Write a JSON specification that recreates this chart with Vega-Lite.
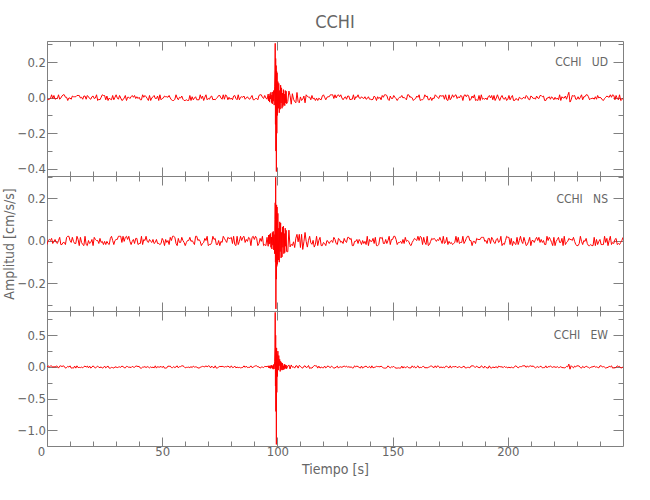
{
  "$schema": "https://vega.github.io/schema/vega-lite/v6.json",
  "padding": {"left": 2, "top": 14, "right": 5, "bottom": 5},
  "title": {"text": "CCHI", "font": "Liberation Sans Narrow, DejaVu Sans Condensed, sans-serif", "fontSize": 18, "fontWeight": "normal", "color": "#666666", "anchor": "middle", "frame": "group", "offset": 6},
  "datasets": {
    "w": [
{"t":0,"u":-0.005,"n":-0.017,"e":-0.002},{"t":0.5,"u":-0.012,"n":0.002,"e":0.018},{"t":1,"u":-0.009,"n":0.007,"e":0.002},{"t":1.5,"u":-0.005,"n":0.002,"e":0.014},{"t":2,"u":0.016,"n":0.012,"e":0.018},
{"t":2.5,"u":-0.005,"n":-0.012,"e":-0.006},{"t":3,"u":0.012,"n":-0.002,"e":0.006},{"t":3.5,"u":-0.009,"n":0.007,"e":-0.002},{"t":4,"u":-0.005,"n":-0.007,"e":0.014},{"t":4.5,"u":-0.005,"n":-0.012,"e":0.010},
{"t":5,"u":0.016,"n":0.002,"e":-0.018},{"t":5.5,"u":-0.009,"n":0.017,"e":0.014},{"t":6,"u":-0.002,"n":-0.017,"e":0.018},{"t":6.5,"u":0.009,"n":-0.017,"e":0.006},{"t":7,"u":0.016,"n":-0.007,"e":0.018},
{"t":7.5,"u":0.016,"n":-0.007,"e":0.010},{"t":8,"u":0.002,"n":-0.017,"e":-0.018},{"t":8.5,"u":0.002,"n":0.017,"e":-0.010},{"t":9,"u":-0.016,"n":0.022,"e":0.010},{"t":9.5,"u":-0.002,"n":0.022,"e":-0.002},
{"t":10,"u":-0.002,"n":0.002,"e":0.018},{"t":10.5,"u":-0.009,"n":-0.007,"e":-0.018},{"t":11,"u":0.009,"n":0.017,"e":-0.014},{"t":11.5,"u":0.005,"n":-0.002,"e":-0.018},{"t":12,"u":0.005,"n":-0.012,"e":0.014},
{"t":12.5,"u":0.005,"n":-0.012,"e":-0.018},{"t":13,"u":0.012,"n":0.022,"e":0.018},{"t":13.5,"u":0.012,"n":0.007,"e":-0.010},{"t":14,"u":0.012,"n":-0.022,"e":-0.006},{"t":14.5,"u":-0.002,"n":0.017,"e":-0.010},
{"t":15,"u":0.002,"n":-0.007,"e":-0.002},{"t":15.5,"u":-0.009,"n":-0.017,"e":-0.014},{"t":16,"u":0.009,"n":-0.022,"e":0.006},{"t":16.5,"u":0.009,"n":0.022,"e":0.014},{"t":17,"u":-0.009,"n":-0.017,"e":-0.002},
{"t":17.5,"u":0.012,"n":-0.022,"e":0.014},{"t":18,"u":0.005,"n":0.002,"e":-0.014},{"t":18.5,"u":-0.005,"n":-0.012,"e":0.014},{"t":19,"u":-0.009,"n":-0.007,"e":-0.018},{"t":19.5,"u":0.005,"n":0.007,"e":-0.002},
{"t":20,"u":0.009,"n":-0.022,"e":0.018},{"t":20.5,"u":-0.005,"n":0.017,"e":-0.002},{"t":21,"u":-0.002,"n":0.007,"e":-0.018},{"t":21.5,"u":0.016,"n":0.002,"e":0.002},{"t":22,"u":-0.016,"n":0.002,"e":0.014},
{"t":22.5,"u":-0.009,"n":-0.012,"e":-0.006},{"t":23,"u":-0.012,"n":0.012,"e":-0.010},{"t":23.5,"u":0.002,"n":-0.007,"e":0.002},{"t":24,"u":0.016,"n":-0.002,"e":-0.018},{"t":24.5,"u":0.012,"n":-0.017,"e":-0.010},
{"t":25,"u":0.012,"n":-0.002,"e":0.014},{"t":25.5,"u":-0.012,"n":-0.017,"e":-0.014},{"t":26,"u":0.009,"n":-0.002,"e":0.002},{"t":26.5,"u":-0.016,"n":-0.012,"e":0.014},{"t":27,"u":-0.002,"n":-0.017,"e":-0.018},
{"t":27.5,"u":-0.009,"n":0.012,"e":-0.018},{"t":28,"u":-0.012,"n":0.022,"e":-0.006},{"t":28.5,"u":0.012,"n":0.002,"e":-0.010},{"t":29,"u":-0.012,"n":-0.017,"e":-0.018},{"t":29.5,"u":0.002,"n":0.002,"e":0.002},
{"t":30,"u":0.016,"n":0.007,"e":-0.002},{"t":30.5,"u":-0.002,"n":0.007,"e":-0.010},{"t":31,"u":-0.009,"n":0.022,"e":-0.002},{"t":31.5,"u":0.012,"n":0.022,"e":0.002},{"t":32,"u":-0.002,"n":0.022,"e":-0.006},
{"t":32.5,"u":-0.016,"n":-0.007,"e":0.014},{"t":33,"u":-0.012,"n":0.022,"e":0.006},{"t":33.5,"u":-0.002,"n":-0.002,"e":-0.010},{"t":34,"u":0.012,"n":0.017,"e":-0.014},{"t":34.5,"u":-0.016,"n":0.022,"e":0.010},
{"t":35,"u":0.002,"n":0.007,"e":0.006},{"t":35.5,"u":0.002,"n":0.022,"e":-0.006},{"t":36,"u":-0.005,"n":-0.002,"e":-0.002},{"t":36.5,"u":0.005,"n":-0.017,"e":-0.010},{"t":37,"u":0.012,"n":-0.002,"e":0.010},
{"t":37.5,"u":0.002,"n":0.007,"e":-0.002},{"t":38,"u":0.012,"n":-0.012,"e":-0.006},{"t":38.5,"u":-0.005,"n":0.012,"e":0.014},{"t":39,"u":0.005,"n":0.012,"e":0.014},{"t":39.5,"u":-0.005,"n":-0.017,"e":0.006},
{"t":40,"u":0.002,"n":-0.012,"e":0.010},{"t":40.5,"u":-0.012,"n":-0.012,"e":-0.018},{"t":41,"u":-0.012,"n":0.022,"e":-0.018},{"t":41.5,"u":0.016,"n":-0.017,"e":-0.002},{"t":42,"u":0.002,"n":0.007,"e":-0.002},
{"t":42.5,"u":0.012,"n":0.002,"e":0.006},{"t":43,"u":0.005,"n":0.022,"e":-0.010},{"t":43.5,"u":-0.005,"n":-0.002,"e":0.006},{"t":44,"u":-0.016,"n":-0.007,"e":-0.002},{"t":44.5,"u":0.012,"n":0.007,"e":-0.014},
{"t":45,"u":-0.016,"n":-0.002,"e":0.002},{"t":45.5,"u":-0.002,"n":-0.007,"e":-0.010},{"t":46,"u":0.005,"n":0.007,"e":-0.002},{"t":46.5,"u":0.012,"n":-0.012,"e":-0.014},{"t":47,"u":-0.005,"n":-0.007,"e":0.018},
{"t":47.5,"u":-0.005,"n":0.007,"e":-0.018},{"t":48,"u":0.009,"n":-0.012,"e":0.006},{"t":48.5,"u":-0.016,"n":-0.012,"e":-0.002},{"t":49,"u":0.016,"n":-0.017,"e":-0.002},{"t":49.5,"u":-0.012,"n":-0.012,"e":0.010},
{"t":50,"u":-0.005,"n":0.012,"e":-0.010},{"t":50.5,"u":-0.002,"n":0.002,"e":0.014},{"t":51,"u":0.009,"n":-0.022,"e":-0.018},{"t":51.5,"u":0.005,"n":0.007,"e":-0.018},{"t":52,"u":0.005,"n":-0.007,"e":-0.014},
{"t":52.5,"u":0.002,"n":0.002,"e":0.014},{"t":53,"u":0.012,"n":-0.017,"e":0.010},{"t":53.5,"u":-0.002,"n":0.017,"e":0.014},{"t":54,"u":-0.012,"n":0.002,"e":-0.010},{"t":54.5,"u":-0.016,"n":0.022,"e":-0.010},
{"t":55,"u":-0.016,"n":0.022,"e":0.006},{"t":55.5,"u":-0.009,"n":0.017,"e":-0.010},{"t":56,"u":0.016,"n":-0.012,"e":0.002},{"t":56.5,"u":-0.002,"n":-0.022,"e":0.018},{"t":57,"u":-0.012,"n":0.012,"e":-0.014},
{"t":57.5,"u":0.002,"n":-0.007,"e":0.006},{"t":58,"u":-0.002,"n":-0.007,"e":0.006},{"t":58.5,"u":0.009,"n":0.017,"e":0.018},{"t":59,"u":-0.009,"n":0.002,"e":0.018},{"t":59.5,"u":-0.016,"n":-0.007,"e":0.006},
{"t":60,"u":-0.016,"n":-0.022,"e":-0.014},{"t":60.5,"u":-0.012,"n":-0.007,"e":-0.006},{"t":61,"u":-0.016,"n":0.002,"e":-0.006},{"t":61.5,"u":-0.016,"n":0.002,"e":-0.002},{"t":62,"u":0.012,"n":0.017,"e":-0.010},
{"t":62.5,"u":-0.016,"n":-0.002,"e":0.006},{"t":63,"u":0.005,"n":0.002,"e":-0.010},{"t":63.5,"u":-0.012,"n":-0.007,"e":0.014},{"t":64,"u":-0.002,"n":-0.017,"e":-0.002},{"t":64.5,"u":0.005,"n":0.022,"e":0.002},
{"t":65,"u":-0.012,"n":0.022,"e":-0.002},{"t":65.5,"u":-0.012,"n":0.002,"e":-0.014},{"t":66,"u":-0.012,"n":0.007,"e":-0.018},{"t":66.5,"u":0.016,"n":-0.002,"e":-0.006},{"t":67,"u":-0.005,"n":-0.022,"e":0.002},
{"t":67.5,"u":0.009,"n":-0.012,"e":0.010},{"t":68,"u":-0.016,"n":-0.007,"e":0.006},{"t":68.5,"u":0.002,"n":0.012,"e":0.002},{"t":69,"u":0.016,"n":0.002,"e":0.018},{"t":69.5,"u":-0.012,"n":0.022,"e":0.002},
{"t":70,"u":-0.005,"n":-0.022,"e":0.018},{"t":70.5,"u":-0.009,"n":-0.017,"e":0.014},{"t":71,"u":0.005,"n":-0.017,"e":-0.014},{"t":71.5,"u":0.009,"n":-0.007,"e":0.014},{"t":72,"u":-0.012,"n":0.022,"e":-0.006},
{"t":72.5,"u":-0.009,"n":0.007,"e":-0.014},{"t":73,"u":-0.012,"n":0.012,"e":0.018},{"t":73.5,"u":-0.005,"n":-0.017,"e":-0.018},{"t":74,"u":0.002,"n":-0.017,"e":-0.014},{"t":74.5,"u":0.012,"n":0.002,"e":-0.002},
{"t":75,"u":0.012,"n":-0.022,"e":0.010},{"t":75.5,"u":-0.002,"n":-0.002,"e":0.006},{"t":76,"u":-0.009,"n":-0.007,"e":0.010},{"t":76.5,"u":0.016,"n":0.022,"e":0.006},{"t":77,"u":-0.009,"n":0.012,"e":-0.002},
{"t":77.5,"u":0.016,"n":0.002,"e":0.006},{"t":78,"u":0.009,"n":-0.007,"e":0.002},{"t":78.5,"u":-0.012,"n":0.017,"e":0.014},{"t":79,"u":0.002,"n":0.012,"e":0.002},{"t":79.5,"u":-0.009,"n":0.012,"e":-0.010},
{"t":80,"u":-0.002,"n":0.017,"e":0.018},{"t":80.5,"u":-0.012,"n":-0.012,"e":-0.010},{"t":81,"u":0.009,"n":0.022,"e":-0.006},{"t":81.5,"u":0.012,"n":-0.017,"e":0.014},{"t":82,"u":-0.005,"n":-0.022,"e":-0.014},
{"t":82.5,"u":-0.012,"n":0.022,"e":-0.002},{"t":83,"u":0.016,"n":-0.017,"e":-0.010},{"t":83.5,"u":-0.012,"n":-0.002,"e":-0.006},{"t":84,"u":0.002,"n":0.022,"e":-0.014},{"t":84.5,"u":0.005,"n":0.002,"e":-0.010},
{"t":85,"u":0.002,"n":0.017,"e":-0.006},{"t":85.5,"u":0.009,"n":0.022,"e":0.018},{"t":86,"u":-0.009,"n":-0.007,"e":-0.006},{"t":86.5,"u":-0.002,"n":0.007,"e":0.014},{"t":87,"u":0.005,"n":-0.002,"e":-0.010},
{"t":87.5,"u":-0.005,"n":0.017,"e":-0.006},{"t":88,"u":-0.009,"n":0.012,"e":-0.006},{"t":88.5,"u":0.002,"n":-0.022,"e":0.018},{"t":89,"u":0.012,"n":0.017,"e":-0.010},{"t":89.5,"u":-0.012,"n":0.022,"e":-0.002},
{"t":90,"u":-0.012,"n":0.007,"e":0.010},{"t":90.5,"u":-0.005,"n":0.022,"e":0.018},{"t":91,"u":-0.005,"n":0.012,"e":0.018},{"t":91.5,"u":-0.012,"n":-0.022,"e":0.002},{"t":92,"u":0.012,"n":-0.012,"e":0.002},
{"t":92.5,"u":0.016,"n":0.012,"e":-0.018},{"t":93,"u":0.016,"n":-0.002,"e":-0.002},{"t":93.5,"u":0.002,"n":0.022,"e":-0.002},{"t":94,"u":-0.005,"n":-0.022,"e":-0.010},{"t":94.5,"u":0.012,"n":-0.017,"e":0.010},
{"t":95,"u":-0.002,"n":-0.022,"e":0.006},{"t":95.5,"u":-0.009,"n":0.017,"e":0.006},
{"t":96,"u":0.020,"n":-0.025,"e":0.015},{"t":96.2,"u":-0.018,"n":0.028,"e":-0.012},{"t":96.4,"u":0.010,"n":-0.015,"e":0.020},{"t":96.6,"u":-0.025,"n":0.030,"e":-0.018},{"t":96.8,"u":0.022,"n":-0.012,"e":0.008},
{"t":97,"u":-0.008,"n":0.035,"e":-0.022},{"t":97.2,"u":0.030,"n":-0.030,"e":0.025},{"t":97.4,"u":-0.028,"n":0.018,"e":-0.010},{"t":97.6,"u":0.015,"n":-0.038,"e":0.030},{"t":97.8,"u":-0.035,"n":0.040,"e":-0.025},
{"t":98,"u":0.032,"n":-0.020,"e":0.015},{"t":98.2,"u":-0.020,"n":0.045,"e":-0.035},{"t":98.4,"u":0.040,"n":-0.042,"e":0.040},{"t":98.6,"u":-0.042,"n":0.030,"e":-0.030},{"t":98.8,"u":0.060,"n":-0.060,"e":0.080},
{"t":98.95,"u":0.150,"n":0.100,"e":0.300},{"t":99.05,"u":0.305,"n":0.180,"e":0.860},{"t":99.15,"u":-0.150,"n":-0.100,"e":-0.300},{"t":99.25,"u":0.220,"n":0.300,"e":0.500},{"t":99.35,"u":-0.300,"n":-0.320,"e":-0.700},
{"t":99.45,"u":0.180,"n":0.150,"e":0.300},{"t":99.55,"u":-0.415,"n":-0.180,"e":-1.220},{"t":99.65,"u":0.150,"n":0.170,"e":0.300},{"t":99.75,"u":-0.200,"n":-0.120,"e":-0.400},{"t":99.85,"u":0.140,"n":0.160,"e":0.200},
{"t":100,"u":-0.100,"n":-0.110,"e":-0.150},{"t":100.2,"u":0.090,"n":0.130,"e":0.250},{"t":100.4,"u":-0.060,"n":-0.090,"e":-0.050},{"t":100.6,"u":0.080,"n":0.060,"e":0.180},{"t":100.8,"u":-0.085,"n":-0.100,"e":0.020},
{"t":101,"u":0.040,"n":0.090,"e":0.120},{"t":101.2,"u":-0.065,"n":-0.050,"e":-0.070},{"t":101.4,"u":0.070,"n":0.085,"e":0.090},{"t":101.6,"u":-0.030,"n":-0.080,"e":-0.040},{"t":101.8,"u":0.055,"n":0.040,"e":0.070},
{"t":102,"u":-0.060,"n":-0.075,"e":-0.050},{"t":102.2,"u":0.025,"n":0.065,"e":0.060},{"t":102.4,"u":-0.050,"n":-0.030,"e":-0.045},{"t":102.6,"u":0.045,"n":0.070,"e":0.020},{"t":102.8,"u":-0.040,"n":-0.060,"e":-0.040},
{"t":103,"u":0.020,"n":0.035,"e":0.045},{"t":103.2,"u":-0.045,"n":-0.055,"e":-0.030},{"t":103.4,"u":0.040,"n":0.060,"e":0.035},{"t":103.6,"u":-0.030,"n":-0.025,"e":-0.020},{"t":103.8,"u":0.036,"n":0.050,"e":0.030},
{"t":104,"u":-0.034,"n":-0.050,"e":-0.028},
{"t":104.5,"u":-0.021,"n":-0.051,"e":0.014},{"t":105,"u":0.037,"n":0.051,"e":0.032},{"t":105.5,"u":0.012,"n":-0.028,"e":-0.032},{"t":106,"u":-0.037,"n":-0.016,"e":0.032},
{"t":106.5,"u":0.022,"n":-0.022,"e":-0.004},{"t":107,"u":-0.009,"n":-0.004,"e":0.004},{"t":107.5,"u":-0.022,"n":-0.031,"e":-0.018},{"t":108,"u":-0.029,"n":0.013,"e":0.018},{"t":108.5,"u":0.029,"n":0.031,"e":0.018},
{"t":109,"u":-0.022,"n":-0.004,"e":-0.018},{"t":109.5,"u":-0.029,"n":0.031,"e":0.025},{"t":110,"u":0.004,"n":-0.031,"e":0.011},{"t":110.5,"u":-0.016,"n":0.031,"e":-0.011},{"t":111,"u":-0.009,"n":-0.040,"e":-0.018},
{"t":111.5,"u":0.009,"n":-0.004,"e":0.011},{"t":112,"u":-0.029,"n":0.040,"e":0.018},{"t":112.5,"u":0.016,"n":-0.003,"e":-0.008},{"t":113,"u":0.007,"n":-0.029,"e":-0.003},{"t":113.5,"u":0.003,"n":0.003,"e":0.023},
{"t":114,"u":0.003,"n":0.022,"e":-0.023},{"t":114.5,"u":-0.012,"n":-0.009,"e":-0.013},{"t":115,"u":0.012,"n":-0.016,"e":-0.018},{"t":115.5,"u":-0.007,"n":0.003,"e":0.003},{"t":116,"u":-0.003,"n":-0.029,"e":0.023},
{"t":116.5,"u":-0.016,"n":-0.016,"e":0.018},{"t":117,"u":-0.003,"n":0.022,"e":0.018},{"t":117.5,"u":-0.016,"n":-0.022,"e":-0.018},{"t":118,"u":-0.003,"n":0.003,"e":0.013},
{"t":118.5,"u":-0.009,"n":0.017,"e":-0.018},{"t":119,"u":-0.012,"n":-0.022,"e":-0.002},{"t":119.5,"u":0.009,"n":-0.022,"e":-0.010},{"t":120,"u":0.016,"n":-0.007,"e":-0.014},{"t":120.5,"u":0.002,"n":-0.012,"e":0.014},
{"t":121,"u":-0.012,"n":-0.022,"e":-0.014},{"t":121.5,"u":0.002,"n":0.002,"e":0.002},{"t":122,"u":0.005,"n":-0.002,"e":0.018},{"t":122.5,"u":0.005,"n":-0.012,"e":-0.002},{"t":123,"u":0.016,"n":-0.002,"e":-0.010},
{"t":123.5,"u":0.016,"n":0.002,"e":0.014},{"t":124,"u":0.016,"n":-0.007,"e":-0.002},{"t":124.5,"u":-0.005,"n":0.017,"e":-0.018},{"t":125,"u":0.016,"n":0.007,"e":-0.014},{"t":125.5,"u":-0.002,"n":-0.012,"e":-0.002},
{"t":126,"u":0.012,"n":-0.017,"e":0.014},{"t":126.5,"u":0.016,"n":0.012,"e":-0.018},{"t":127,"u":0.005,"n":0.007,"e":0.002},{"t":127.5,"u":0.016,"n":-0.007,"e":0.002},{"t":128,"u":-0.002,"n":-0.002,"e":-0.006},
{"t":128.5,"u":-0.012,"n":-0.012,"e":0.006},{"t":129,"u":-0.002,"n":0.012,"e":0.014},{"t":129.5,"u":0.005,"n":-0.002,"e":0.002},{"t":130,"u":-0.009,"n":-0.007,"e":0.014},{"t":130.5,"u":0.009,"n":0.017,"e":-0.006},
{"t":131,"u":0.009,"n":0.017,"e":0.006},{"t":131.5,"u":-0.012,"n":0.007,"e":-0.006},{"t":132,"u":-0.009,"n":0.012,"e":0.002},{"t":132.5,"u":-0.009,"n":-0.022,"e":-0.014},{"t":133,"u":0.016,"n":-0.022,"e":-0.014},
{"t":133.5,"u":-0.012,"n":-0.002,"e":0.018},{"t":134,"u":0.005,"n":-0.002,"e":0.002},{"t":134.5,"u":0.002,"n":0.007,"e":0.014},{"t":135,"u":0.016,"n":-0.012,"e":0.006},{"t":135.5,"u":-0.002,"n":0.007,"e":-0.006},
{"t":136,"u":-0.005,"n":-0.002,"e":-0.018},{"t":136.5,"u":0.005,"n":-0.017,"e":0.014},{"t":137,"u":-0.002,"n":0.002,"e":-0.018},{"t":137.5,"u":-0.005,"n":-0.012,"e":-0.002},{"t":138,"u":0.005,"n":-0.002,"e":0.006},
{"t":138.5,"u":-0.009,"n":-0.017,"e":0.014},{"t":139,"u":-0.005,"n":0.022,"e":-0.006},{"t":139.5,"u":0.005,"n":-0.022,"e":-0.006},{"t":140,"u":-0.009,"n":0.007,"e":0.010},{"t":140.5,"u":-0.009,"n":-0.002,"e":-0.018},
{"t":141,"u":-0.012,"n":-0.002,"e":0.018},{"t":141.5,"u":-0.009,"n":0.012,"e":-0.014},{"t":142,"u":0.009,"n":-0.012,"e":-0.006},{"t":142.5,"u":0.002,"n":0.017,"e":-0.002},{"t":143,"u":-0.016,"n":-0.022,"e":0.010},
{"t":143.5,"u":0.005,"n":-0.022,"e":0.006},{"t":144,"u":-0.005,"n":-0.017,"e":0.006},{"t":144.5,"u":0.002,"n":0.017,"e":0.002},{"t":145,"u":-0.012,"n":0.012,"e":0.014},{"t":145.5,"u":0.012,"n":0.017,"e":-0.002},
{"t":146,"u":0.002,"n":-0.012,"e":-0.014},{"t":146.5,"u":0.016,"n":-0.012,"e":-0.018},{"t":147,"u":0.016,"n":0.007,"e":-0.018},{"t":147.5,"u":0.012,"n":-0.012,"e":-0.010},{"t":148,"u":-0.009,"n":0.002,"e":0.018},
{"t":148.5,"u":-0.016,"n":0.022,"e":-0.002},{"t":149,"u":0.009,"n":-0.017,"e":-0.014},{"t":149.5,"u":-0.005,"n":0.007,"e":0.002},{"t":150,"u":-0.005,"n":0.007,"e":-0.002},{"t":150.5,"u":0.012,"n":0.022,"e":0.010},
{"t":151,"u":0.002,"n":0.022,"e":-0.010},{"t":151.5,"u":-0.005,"n":0.007,"e":-0.018},{"t":152,"u":-0.016,"n":-0.017,"e":-0.018},{"t":152.5,"u":-0.005,"n":-0.007,"e":-0.014},{"t":153,"u":0.002,"n":-0.007,"e":-0.018},
{"t":153.5,"u":0.002,"n":-0.002,"e":-0.018},{"t":154,"u":0.012,"n":-0.012,"e":0.014},{"t":154.5,"u":-0.002,"n":0.007,"e":-0.018},{"t":155,"u":0.002,"n":-0.012,"e":0.006},{"t":155.5,"u":-0.005,"n":0.017,"e":-0.014},
{"t":156,"u":-0.012,"n":-0.002,"e":-0.002},{"t":156.5,"u":0.016,"n":0.002,"e":0.006},{"t":157,"u":0.016,"n":-0.002,"e":-0.014},{"t":157.5,"u":0.002,"n":-0.017,"e":-0.014},{"t":158,"u":0.005,"n":-0.022,"e":-0.014},
{"t":158.5,"u":-0.002,"n":-0.007,"e":0.018},{"t":159,"u":-0.016,"n":0.002,"e":-0.006},{"t":159.5,"u":-0.009,"n":0.012,"e":0.010},{"t":160,"u":-0.005,"n":0.007,"e":-0.018},{"t":160.5,"u":0.009,"n":0.002,"e":0.002},
{"t":161,"u":0.002,"n":0.022,"e":0.018},{"t":161.5,"u":0.016,"n":0.002,"e":-0.014},{"t":162,"u":-0.016,"n":0.022,"e":-0.006},{"t":162.5,"u":-0.012,"n":0.017,"e":-0.010},{"t":163,"u":-0.012,"n":-0.017,"e":0.006},
{"t":163.5,"u":-0.005,"n":0.017,"e":0.010},{"t":164,"u":0.016,"n":-0.007,"e":-0.014},{"t":164.5,"u":0.005,"n":-0.017,"e":-0.010},{"t":165,"u":0.009,"n":0.022,"e":-0.014},{"t":165.5,"u":-0.012,"n":-0.022,"e":-0.006},
{"t":166,"u":-0.012,"n":-0.017,"e":0.002},{"t":166.5,"u":0.002,"n":-0.002,"e":0.014},{"t":167,"u":-0.016,"n":0.012,"e":0.014},{"t":167.5,"u":-0.002,"n":0.007,"e":-0.002},{"t":168,"u":-0.005,"n":0.012,"e":-0.010},
{"t":168.5,"u":0.016,"n":0.007,"e":0.018},{"t":169,"u":0.009,"n":-0.002,"e":-0.010},{"t":169.5,"u":0.002,"n":0.007,"e":0.018},{"t":170,"u":-0.005,"n":0.002,"e":0.010},{"t":170.5,"u":0.012,"n":0.017,"e":-0.014},
{"t":171,"u":0.009,"n":0.002,"e":0.002},{"t":171.5,"u":0.009,"n":-0.012,"e":-0.010},{"t":172,"u":0.012,"n":0.022,"e":-0.002},{"t":172.5,"u":-0.009,"n":-0.012,"e":-0.014},{"t":173,"u":0.016,"n":-0.007,"e":0.010},
{"t":173.5,"u":-0.012,"n":0.017,"e":0.014},{"t":174,"u":-0.016,"n":-0.017,"e":-0.006},{"t":174.5,"u":0.016,"n":-0.002,"e":-0.014},{"t":175,"u":-0.012,"n":-0.012,"e":0.018},
{"t":175.5,"u":-0.002,"n":-0.007,"e":-0.014},{"t":176,"u":0.016,"n":-0.017,"e":0.002},{"t":176.5,"u":0.002,"n":-0.012,"e":0.006},{"t":177,"u":0.012,"n":-0.007,"e":0.002},{"t":177.5,"u":0.016,"n":0.022,"e":0.010},
{"t":178,"u":-0.005,"n":-0.007,"e":-0.010},{"t":178.5,"u":0.005,"n":0.017,"e":-0.002},{"t":179,"u":-0.002,"n":-0.012,"e":0.006},{"t":179.5,"u":0.012,"n":-0.007,"e":-0.006},{"t":180,"u":0.009,"n":-0.007,"e":-0.010},
{"t":180.5,"u":-0.016,"n":0.022,"e":0.002},{"t":181,"u":0.012,"n":-0.012,"e":0.014},{"t":181.5,"u":0.016,"n":-0.002,"e":-0.014},{"t":182,"u":0.005,"n":0.012,"e":-0.014},{"t":182.5,"u":0.016,"n":0.022,"e":-0.006},
{"t":183,"u":0.009,"n":0.022,"e":-0.006},{"t":183.5,"u":-0.016,"n":0.002,"e":-0.014},{"t":184,"u":-0.009,"n":0.002,"e":0.014},{"t":184.5,"u":0.009,"n":-0.022,"e":0.018},{"t":185,"u":-0.002,"n":-0.002,"e":0.018},
{"t":185.5,"u":0.016,"n":-0.002,"e":0.002},{"t":186,"u":-0.016,"n":-0.012,"e":-0.006},{"t":186.5,"u":-0.012,"n":0.012,"e":0.014},{"t":187,"u":-0.016,"n":0.007,"e":-0.002},{"t":187.5,"u":0.012,"n":0.007,"e":-0.010},
{"t":188,"u":-0.016,"n":0.007,"e":-0.010},{"t":188.5,"u":0.016,"n":0.017,"e":0.018},{"t":189,"u":-0.009,"n":0.017,"e":0.006},{"t":189.5,"u":-0.005,"n":0.017,"e":-0.018},{"t":190,"u":-0.009,"n":-0.002,"e":0.014},
{"t":190.5,"u":-0.002,"n":0.002,"e":-0.006},{"t":191,"u":-0.012,"n":-0.012,"e":-0.014},{"t":191.5,"u":0.005,"n":0.012,"e":-0.018},{"t":192,"u":0.012,"n":0.012,"e":0.018},{"t":192.5,"u":-0.002,"n":-0.012,"e":-0.014},
{"t":193,"u":0.012,"n":0.017,"e":-0.018},{"t":193.5,"u":-0.012,"n":0.007,"e":0.002},{"t":194,"u":0.012,"n":-0.007,"e":-0.010},{"t":194.5,"u":-0.016,"n":-0.012,"e":-0.006},{"t":195,"u":-0.002,"n":0.007,"e":0.006},
{"t":195.5,"u":0.016,"n":0.012,"e":-0.018},{"t":196,"u":-0.002,"n":-0.007,"e":0.014},{"t":196.5,"u":-0.016,"n":-0.002,"e":0.006},{"t":197,"u":0.002,"n":0.022,"e":0.002},{"t":197.5,"u":0.012,"n":-0.022,"e":0.002},
{"t":198,"u":-0.005,"n":-0.012,"e":-0.010},{"t":198.5,"u":-0.009,"n":-0.017,"e":0.010},{"t":199,"u":0.002,"n":0.002,"e":-0.006},{"t":199.5,"u":-0.016,"n":0.022,"e":-0.002},{"t":200,"u":-0.009,"n":0.017,"e":-0.014},
{"t":200.5,"u":0.012,"n":0.017,"e":-0.002},{"t":201,"u":-0.012,"n":-0.017,"e":-0.014},{"t":201.5,"u":0.002,"n":0.012,"e":-0.002},{"t":202,"u":0.012,"n":-0.022,"e":-0.010},{"t":202.5,"u":-0.016,"n":-0.002,"e":-0.014},
{"t":203,"u":-0.016,"n":-0.012,"e":0.010},{"t":203.5,"u":-0.005,"n":-0.017,"e":0.018},{"t":204,"u":-0.009,"n":0.017,"e":0.002},{"t":204.5,"u":-0.016,"n":-0.017,"e":-0.014},{"t":205,"u":0.002,"n":0.002,"e":0.002},
{"t":205.5,"u":-0.002,"n":0.022,"e":0.006},{"t":206,"u":-0.009,"n":-0.002,"e":0.006},{"t":206.5,"u":-0.002,"n":-0.012,"e":0.018},{"t":207,"u":0.002,"n":0.017,"e":0.018},{"t":207.5,"u":-0.005,"n":-0.002,"e":0.018},
{"t":208,"u":0.012,"n":-0.022,"e":-0.006},{"t":208.5,"u":0.005,"n":-0.017,"e":0.018},{"t":209,"u":-0.009,"n":-0.002,"e":-0.002},{"t":209.5,"u":-0.012,"n":0.017,"e":0.014},{"t":210,"u":0.009,"n":-0.022,"e":0.018},
{"t":210.5,"u":0.005,"n":0.002,"e":0.006},{"t":211,"u":-0.005,"n":0.002,"e":0.018},{"t":211.5,"u":-0.002,"n":-0.007,"e":-0.002},{"t":212,"u":-0.009,"n":0.007,"e":-0.014},{"t":212.5,"u":0.009,"n":0.017,"e":-0.002},
{"t":213,"u":-0.002,"n":0.002,"e":0.006},{"t":213.5,"u":-0.005,"n":0.017,"e":-0.010},{"t":214,"u":0.012,"n":-0.007,"e":0.010},{"t":214.5,"u":0.012,"n":0.007,"e":0.010},{"t":215,"u":0.005,"n":-0.007,"e":-0.014},
{"t":215.5,"u":0.009,"n":0.002,"e":-0.010},{"t":216,"u":-0.016,"n":-0.017,"e":-0.010},{"t":216.5,"u":-0.016,"n":-0.017,"e":0.018},{"t":217,"u":-0.002,"n":0.022,"e":-0.014},{"t":217.5,"u":-0.002,"n":0.002,"e":0.006},
{"t":218,"u":0.005,"n":0.017,"e":0.002},{"t":218.5,"u":-0.009,"n":0.007,"e":0.018},{"t":219,"u":0.005,"n":-0.007,"e":-0.002},{"t":219.5,"u":-0.002,"n":-0.022,"e":-0.006},{"t":220,"u":-0.012,"n":0.017,"e":0.006},
{"t":220.5,"u":0.002,"n":-0.022,"e":-0.002},{"t":221,"u":-0.009,"n":-0.002,"e":-0.006},{"t":221.5,"u":-0.002,"n":0.007,"e":0.006},{"t":222,"u":-0.012,"n":0.017,"e":-0.010},{"t":222.5,"u":0.016,"n":-0.007,"e":-0.006},
{"t":223,"u":-0.016,"n":-0.007,"e":0.006},{"t":223.5,"u":0.005,"n":0.012,"e":-0.010},{"t":224,"u":-0.002,"n":-0.022,"e":-0.010},{"t":224.5,"u":-0.002,"n":0.022,"e":-0.014},{"t":225,"u":0.009,"n":-0.017,"e":-0.010},
{"t":225.5,"u":-0.009,"n":-0.007,"e":0.010},{"t":226,"u":0.012,"n":-0.002,"e":0.002},{"t":226.5,"u":0.030,"n":0.012,"e":0.045},{"t":227,"u":-0.025,"n":0.007,"e":-0.035},{"t":227.5,"u":-0.012,"n":0.007,"e":0.020},
{"t":228,"u":0.012,"n":0.002,"e":0.002},{"t":228.5,"u":0.009,"n":0.017,"e":-0.014},{"t":229,"u":0.012,"n":-0.002,"e":0.014},{"t":229.5,"u":-0.009,"n":-0.017,"e":0.002},{"t":230,"u":-0.009,"n":-0.022,"e":0.018},
{"t":230.5,"u":0.005,"n":-0.022,"e":0.018},{"t":231,"u":-0.009,"n":-0.012,"e":0.014},{"t":231.5,"u":0.002,"n":0.022,"e":-0.010},{"t":232,"u":0.016,"n":-0.002,"e":-0.018},{"t":232.5,"u":-0.012,"n":-0.017,"e":0.010},
{"t":233,"u":0.005,"n":0.002,"e":-0.006},{"t":233.5,"u":0.005,"n":-0.002,"e":-0.006},{"t":234,"u":0.016,"n":0.012,"e":0.014},{"t":234.5,"u":0.016,"n":-0.012,"e":0.002},{"t":235,"u":0.005,"n":-0.022,"e":-0.006},
{"t":235.5,"u":-0.012,"n":-0.022,"e":-0.018},{"t":236,"u":-0.005,"n":-0.017,"e":-0.006},{"t":236.5,"u":-0.005,"n":-0.022,"e":0.002},{"t":237,"u":-0.002,"n":-0.022,"e":0.002},{"t":237.5,"u":-0.009,"n":0.017,"e":0.014},
{"t":238,"u":0.005,"n":-0.022,"e":-0.002},{"t":238.5,"u":-0.009,"n":0.007,"e":0.002},{"t":239,"u":0.012,"n":-0.017,"e":-0.006},{"t":239.5,"u":-0.002,"n":-0.002,"e":-0.014},{"t":240,"u":0.002,"n":0.007,"e":0.018},
{"t":240.5,"u":-0.002,"n":-0.017,"e":0.018},{"t":241,"u":-0.012,"n":-0.017,"e":0.002},{"t":241.5,"u":-0.016,"n":-0.017,"e":0.006},{"t":242,"u":-0.005,"n":0.022,"e":-0.002},{"t":242.5,"u":0.002,"n":-0.007,"e":-0.018},
{"t":243,"u":0.009,"n":0.012,"e":-0.010},{"t":243.5,"u":0.005,"n":-0.022,"e":-0.006},{"t":244,"u":0.002,"n":0.002,"e":0.010},{"t":244.5,"u":0.016,"n":0.022,"e":0.002},{"t":245,"u":0.002,"n":-0.017,"e":0.018},
{"t":245.5,"u":0.016,"n":-0.007,"e":-0.018},{"t":246,"u":0.012,"n":-0.012,"e":-0.014},{"t":246.5,"u":-0.012,"n":0.007,"e":-0.014},{"t":247,"u":0.012,"n":0.012,"e":-0.006},{"t":247.5,"u":-0.005,"n":-0.017,"e":0.018},
{"t":248,"u":-0.012,"n":-0.012,"e":0.006},{"t":248.5,"u":0.016,"n":-0.017,"e":0.010},{"t":249,"u":-0.016,"n":-0.007,"e":-0.014},{"t":249.5,"u":-0.012,"n":0.002,"e":-0.014},{"t":250,"u":-0.002,"n":0.017,"e":0.002}
    ],
    "lab": [
      {"c":"UD","t":243.5,"y":0.2,"txt":"CCHI\u00a0\u00a0\u00a0UD"},
      {"c":"NS","t":243.5,"y":0.2,"txt":"CCHI\u00a0\u00a0\u00a0NS"},
      {"c":"EW","t":243.5,"y":0.5,"txt":"CCHI\u00a0\u00a0\u00a0EW"}
    ]
  },
  "vconcat": [
    {
      "width": 576, "height": 135,
      "data": {"name": "w"},
      "layer": [
        {"mark": {"type": "line", "color": "#ff0000", "strokeWidth": 1, "clip": true},
         "encoding": {
           "x": {"field": "t", "type": "quantitative", "scale": {"domain": [0, 250], "nice": false, "zero": false},
                 "axis": {"orient": "bottom", "values": [0,10,20,30,40,50,60,70,80,90,100,110,120,130,140,150,160,170,180,190,200,210,220,230,240], "tickSize": {"condition": {"test": "datum.value % 50 === 0", "value": -9}, "value": -5}, "labels": false, "title": null}},
           "y": {"field": "u", "type": "quantitative", "scale": {"domain": [-0.44, 0.318], "nice": false, "zero": false},
                 "axis": {"orient": "left", "values": [-0.4,-0.3,-0.2,-0.1,0,0.1,0.2,0.3], "format": ".1f", "tickSize": {"condition": {"test": "round(datum.value*10) % 2 === 0", "value": -10}, "value": -5}, "labelExpr": "round(datum.value*10) % 2 === 0 ? datum.label : ''", "labelPadding": 11.5, "labelOverlap": false, "title": null}}
         }},
        {"data": {"name": "lab"}, "transform": [{"filter": "datum.c === 'UD'"}],
         "mark": {"type": "text", "align": "right", "baseline": "middle", "font": "Liberation Sans Narrow, DejaVu Sans Condensed, sans-serif", "fontSize": 12, "color": "#666666"},
         "encoding": {
           "x": {"field": "t", "type": "quantitative", "scale": {"domain": [0, 250], "nice": false, "zero": false}, "axis": null},
           "y": {"field": "y", "type": "quantitative", "scale": {"domain": [-0.44, 0.318], "nice": false, "zero": false}, "axis": null},
           "text": {"field": "txt"}
         }},
        {"data": {"name": "lab"}, "transform": [{"filter": "datum.c === 'UD'"}],
         "mark": {"type": "point", "opacity": 0},
         "encoding": {
           "x": {"field": "t", "type": "quantitative", "scale": {"domain": [0, 250], "nice": false, "zero": false},
                 "axis": {"orient": "top", "values": [0,10,20,30,40,50,60,70,80,90,100,110,120,130,140,150,160,170,180,190,200,210,220,230,240], "tickSize": {"condition": {"test": "datum.value % 50 === 0", "value": -9}, "value": -5}, "labels": false, "title": null}},
           "y": {"field": "y", "type": "quantitative", "scale": {"domain": [-0.44, 0.318], "nice": false, "zero": false},
                 "axis": {"orient": "right", "values": [-0.4,-0.3,-0.2,-0.1,0,0.1,0.2,0.3], "tickSize": {"condition": {"test": "round(datum.value*10) % 2 === 0", "value": -10}, "value": -5}, "labels": false, "title": null}}
         }}
      ],
      "resolve": {"axis": {"x": "independent", "y": "independent"}}
    },
    {
      "width": 576, "height": 135,
      "data": {"name": "w"},
      "layer": [
        {"mark": {"type": "line", "color": "#ff0000", "strokeWidth": 1, "clip": true},
         "encoding": {
           "x": {"field": "t", "type": "quantitative", "scale": {"domain": [0, 250], "nice": false, "zero": false},
                 "axis": {"orient": "bottom", "values": [0,10,20,30,40,50,60,70,80,90,100,110,120,130,140,150,160,170,180,190,200,210,220,230,240], "tickSize": {"condition": {"test": "datum.value % 50 === 0", "value": -9}, "value": -5}, "labels": false, "title": null}},
           "y": {"field": "n", "type": "quantitative", "scale": {"domain": [-0.33, 0.306], "nice": false, "zero": false},
                 "axis": {"orient": "left", "values": [-0.3,-0.2,-0.1,0,0.1,0.2,0.3], "format": ".1f", "tickSize": {"condition": {"test": "round(datum.value*10) % 2 === 0", "value": -10}, "value": -5}, "labelExpr": "round(datum.value*10) % 2 === 0 ? datum.label : ''", "labelPadding": 11.5, "labelOverlap": false, "title": "Amplitud [cm/s/s]", "titlePadding": 1}}
         }},
        {"data": {"name": "lab"}, "transform": [{"filter": "datum.c === 'NS'"}],
         "mark": {"type": "text", "align": "right", "baseline": "middle", "font": "Liberation Sans Narrow, DejaVu Sans Condensed, sans-serif", "fontSize": 12, "color": "#666666"},
         "encoding": {
           "x": {"field": "t", "type": "quantitative", "scale": {"domain": [0, 250], "nice": false, "zero": false}, "axis": null},
           "y": {"field": "y", "type": "quantitative", "scale": {"domain": [-0.33, 0.306], "nice": false, "zero": false}, "axis": null},
           "text": {"field": "txt"}
         }},
        {"data": {"name": "lab"}, "transform": [{"filter": "datum.c === 'NS'"}],
         "mark": {"type": "point", "opacity": 0},
         "encoding": {
           "x": {"field": "t", "type": "quantitative", "scale": {"domain": [0, 250], "nice": false, "zero": false},
                 "axis": {"orient": "top", "values": [0,10,20,30,40,50,60,70,80,90,100,110,120,130,140,150,160,170,180,190,200,210,220,230,240], "tickSize": {"condition": {"test": "datum.value % 50 === 0", "value": -9}, "value": -5}, "labels": false, "title": null}},
           "y": {"field": "y", "type": "quantitative", "scale": {"domain": [-0.33, 0.306], "nice": false, "zero": false},
                 "axis": {"orient": "right", "values": [-0.3,-0.2,-0.1,0,0.1,0.2,0.3], "tickSize": {"condition": {"test": "round(datum.value*10) % 2 === 0", "value": -10}, "value": -5}, "labels": false, "title": null}}
         }}
      ],
      "resolve": {"axis": {"x": "independent", "y": "independent"}}
    },
    {
      "width": 576, "height": 135,
      "data": {"name": "w"},
      "layer": [
        {"mark": {"type": "line", "color": "#ff0000", "strokeWidth": 1, "clip": true},
         "encoding": {
           "x": {"field": "t", "type": "quantitative", "scale": {"domain": [0, 250], "nice": false, "zero": false},
                 "axis": {"orient": "bottom", "values": [0,10,20,30,40,50,60,70,80,90,100,110,120,130,140,150,160,170,180,190,200,210,220,230,240], "format": "d", "tickSize": {"condition": {"test": "datum.value % 50 === 0", "value": -9}, "value": -5}, "labelExpr": "datum.value % 50 === 0 ? datum.label : ''", "labelPadding": 8, "labelFlush": false, "labelOverlap": false, "labelOffset": {"condition": {"test": "datum.value === 0", "value": -6}, "value": 0}, "title": "Tiempo [s]", "titlePadding": 0}},
           "y": {"field": "e", "type": "quantitative", "scale": {"domain": [-1.245, 0.882], "nice": false, "zero": false},
                 "axis": {"orient": "left", "values": [-1,-0.75,-0.5,-0.25,0,0.25,0.5,0.75], "format": ".1f", "tickSize": {"condition": {"test": "round(datum.value*4) % 2 === 0", "value": -10}, "value": -5}, "labelExpr": "round(datum.value*4) % 2 === 0 ? datum.label : ''", "labelPadding": 11.5, "labelOverlap": false, "title": null}}
         }},
        {"data": {"name": "lab"}, "transform": [{"filter": "datum.c === 'EW'"}],
         "mark": {"type": "text", "align": "right", "baseline": "middle", "font": "Liberation Sans Narrow, DejaVu Sans Condensed, sans-serif", "fontSize": 12, "color": "#666666"},
         "encoding": {
           "x": {"field": "t", "type": "quantitative", "scale": {"domain": [0, 250], "nice": false, "zero": false}, "axis": null},
           "y": {"field": "y", "type": "quantitative", "scale": {"domain": [-1.245, 0.882], "nice": false, "zero": false}, "axis": null},
           "text": {"field": "txt"}
         }},
        {"data": {"name": "lab"}, "transform": [{"filter": "datum.c === 'EW'"}],
         "mark": {"type": "point", "opacity": 0},
         "encoding": {
           "x": {"field": "t", "type": "quantitative", "scale": {"domain": [0, 250], "nice": false, "zero": false},
                 "axis": {"orient": "top", "values": [0,10,20,30,40,50,60,70,80,90,100,110,120,130,140,150,160,170,180,190,200,210,220,230,240], "tickSize": {"condition": {"test": "datum.value % 50 === 0", "value": -9}, "value": -5}, "labels": false, "title": null}},
           "y": {"field": "y", "type": "quantitative", "scale": {"domain": [-1.245, 0.882], "nice": false, "zero": false},
                 "axis": {"orient": "right", "values": [-1,-0.75,-0.5,-0.25,0,0.25,0.5,0.75], "tickSize": {"condition": {"test": "round(datum.value*4) % 2 === 0", "value": -10}, "value": -5}, "labels": false, "title": null}}
         }}
      ],
      "resolve": {"axis": {"x": "independent", "y": "independent"}}
    }
  ],
  "spacing": 0,
  "bounds": "flush",
  "config": {
    "view": {"stroke": null},
    "axis": {"grid": false, "domainColor": "#808080", "tickColor": "#808080", "domainWidth": 1, "tickWidth": 1, "labelColor": "#666666", "titleColor": "#666666", "labelFont": "Liberation Sans Narrow, DejaVu Sans Condensed, sans-serif", "titleFont": "Liberation Sans Narrow, DejaVu Sans Condensed, sans-serif", "labelFontSize": 13, "titleFontSize": 14, "titleFontWeight": "normal"}
  }
}
